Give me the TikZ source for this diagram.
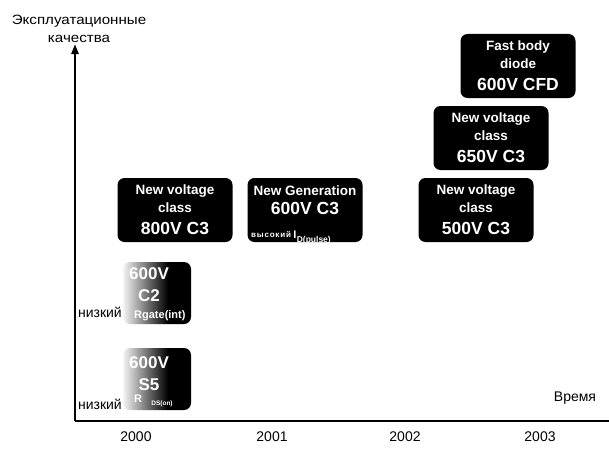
\documentclass[tikz,border=0pt]{standalone}
\usepackage{fontspec}
\setmainfont{Liberation Sans}
\newfontfamily\widesans[FakeStretch=1.12]{Liberation Sans}
\usetikzlibrary{arrows.meta,positioning}

% light on the left, fading to black on the right
\pgfdeclarehorizontalshading{fadeblack}{100bp}{color(0bp)=(white); color(25bp)=(white!96!black); color(58bp)=(black); color(100bp)=(black)}

\newcommand{\head}{\fontsize{13.5}{16}\selectfont}
\newcommand{\volt}{\fontsize{17.5}{20}\selectfont}

\begin{document}
\begin{tikzpicture}[
  x=1pt, y=-1pt,
  font=\fontsize{14}{16}\selectfont,
  prod/.style={fill=black, text=white, rounded corners=7pt,
               minimum width=115pt, minimum height=64pt, align=center,
               inner sep=2pt, font=\bfseries},
  old/.style={shading=fadeblack, text=white, rounded corners=7pt,
              minimum width=68pt, minimum height=62pt, inner sep=0pt},
  big/.style={text=white, inner sep=0pt, font=\fontsize{17}{18}\selectfont\bfseries},
  small/.style={text=white, inner sep=0pt, font=\fontsize{11}{11}\selectfont\bfseries},
  low/.style={inner sep=0pt},
  axis/.style={line width=2.4pt}
]
\useasboundingbox (0,0) rectangle (609,452);

% axes
\coordinate (origin) at (75,421);
\coordinate (ytip) at (75,44);
\coordinate (xend) at (609,421);
\draw[axis] (origin) -- (xend);
\draw[axis, -{Triangle[length=10pt,width=7pt]}] (origin) -- (ytip);
\node[align=center, inner sep=0pt, font=\widesans\fontsize{13.5}{18}\selectfont] (ylab) at (79,29) {Эксплуатационные\\качества};
\node (time) at (575,398) {Время};

% years
\node (y2000) at (136,437) {2000};
\node (y2001) at (272,437) {2001};
\node (y2002) at (405,437) {2002};
\node (y2003) at (540,437) {2003};

% 2000: older families
\node[old] (s5) at (157,379) {};
\node[big] (s5v) at (149,363) {600V};
\node[big] (s5n) at (149,385) {S5};
\node[small] (s5r) at (138,399) {R};
\node[small, font=\fontsize{6.5}{7}\selectfont\bfseries] (s5ds) at (162,404) {DS(on)};
\node[low, anchor=east] (s5low) at (122,404) {низкий};

\node[old] (c2) at (157,293) {};
\node[big] (c2v) at (149,274) {600V};
\node[big] (c2n) at (149,296) {C2};
\node[small, anchor=west] (c2rg) at (134,316) {Rgate(int)};
\node[low, anchor=east] (c2low) at (122,312) {низкий};

\node[prod] (c800) at (175,210) {\head New voltage\\[4pt]\head class\\[9pt]\volt 800V C3};

% 2001
\node[prod] (c600) at (305,210) {\head New Generation\\[5pt]\volt 600V C3\\[8pt]};
\node[small, anchor=west, font=\fontsize{8}{8}\selectfont\bfseries\addfontfeature{LetterSpace=10}] (c600hi) at (251,235) {высокий};
\node[small, anchor=west] (c600i) at ([xshift=2pt]c600hi.east) {I};
\node[small, anchor=north west, font=\fontsize{8.5}{9}\selectfont\bfseries] (c600dp) at ([yshift=-1.5pt]c600i.east) {D(pulse)};

% 2002 / 2003
\node[prod] (c500) at (476,210) {\head New voltage\\[4pt]\head class\\[9pt]\volt 500V C3};
\node[prod] (c650) at (491,138) {\head New voltage\\[4pt]\head class\\[9pt]\volt 650V C3};
\node[prod] (cfd) at (518,66) {\head Fast body\\[4pt]\head diode\\[9pt]\volt 600V CFD};
\end{tikzpicture}
\end{document}
